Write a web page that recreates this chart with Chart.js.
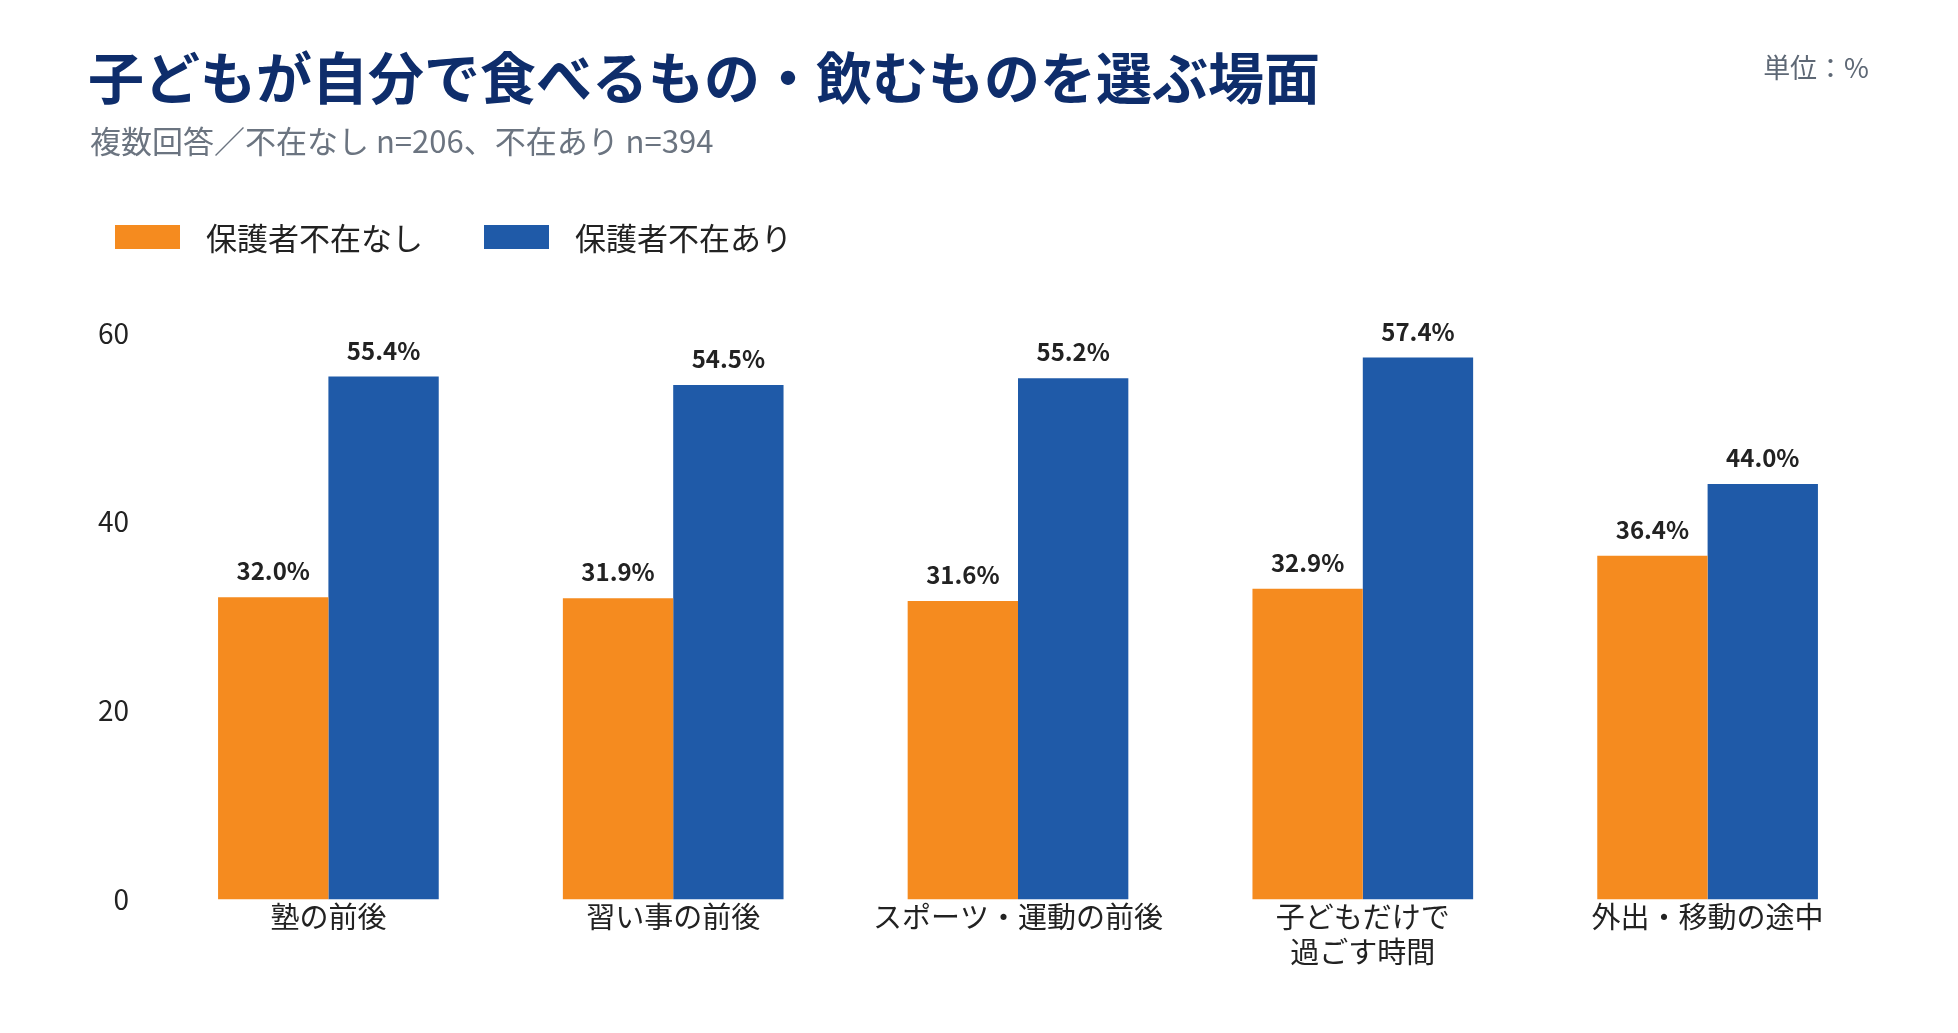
<!DOCTYPE html>
<html lang="ja">
<head>
<meta charset="utf-8">
<title>子どもが自分で食べるもの・飲むものを選ぶ場面</title>
<script src="https://cdn.jsdelivr.net/npm/chart.js@4.4.1/dist/chart.umd.min.js"></script>
<style>
  html, body {
    margin: 0;
    padding: 0;
    background: #fff;
    font-family: 'Noto Sans CJK JP', 'Noto Sans', sans-serif;
  }
  #page {
    position: relative;
    width: 1958px;
    height: 1033px;
    overflow: hidden;
  }
  #chartBox {
    position: absolute;
    left: 0;
    top: 0;
    width: 1958px;
    height: 1033px;
  }
  .title {
    position: absolute;
    left: 88px;
    top: 47px;
    font-size: 56px;
    line-height: 56px;
    font-weight: 700;
    color: #0e2d6b;
    white-space: nowrap;
  }
  .subtitle {
    position: absolute;
    left: 90px;
    top: 124px;
    font-size: 31px;
    line-height: 31px;
    color: #6b7480;
    white-space: nowrap;
  }
  .unit {
    position: absolute;
    right: 89px;
    top: 53px;
    font-size: 27px;
    line-height: 27px;
    color: #5e6875;
    white-space: nowrap;
  }
  #legend {
    position: absolute;
    left: 115px;
    top: 219px;
    height: 36px;
    display: flex;
    align-items: center;
  }
  .legend-item {
    display: flex;
    align-items: center;
    margin-right: 61px;
  }
  .legend-box {
    width: 65px;
    height: 24px;
    margin-right: 26px;
  }
  .legend-text {
    font-size: 31px;
    line-height: 36px;
    color: #222;
    white-space: nowrap;
  }
</style>
</head>
<body>
<div id="page">
  <div id="chartBox"><canvas id="myChart"></canvas></div>
  <div class="title">子どもが自分で食べるもの・飲むものを選ぶ場面</div>
  <div class="subtitle">複数回答／不在なし n=206、不在あり n=394</div>
  <div class="unit">単位：%</div>
  <div id="legend"></div>
</div>
<script>
const categories = [
    '塾の前後',
    '習い事の前後',
    'スポーツ・運動の前後',
    ['子どもだけで', '過ごす時間'],
    '外出・移動の途中'
]

const seriesNames = ['保護者不在なし', '保護者不在あり']

// 保護者不在なし
const absentNone = [32.0, 31.9, 31.6, 32.9, 36.4]
// 保護者不在あり
const absentPresent = [55.4, 54.5, 55.2, 57.4, 44.0]

const yTickValues = [0, 20, 40, 60]

const seriesColors = ['rgb(245, 139, 31)', 'rgb(31, 90, 168)']

const fontFamily = "'Noto Sans CJK JP', 'Noto Sans', sans-serif"

const dataSets = [
    {
        label: seriesNames[0],
        data: absentNone,
        backgroundColor: seriesColors[0],
        borderWidth: 0,
    },
    {
        label: seriesNames[1],
        data: absentPresent,
        backgroundColor: seriesColors[1],
        borderWidth: 0,
    }
]

// draws "55.4%" style labels above every bar
const valueLabels = {
    id: 'valueLabels',
    afterDatasetsDraw(chart) {
        const ctx = chart.ctx
        ctx.save()
        ctx.font = `700 24px ${fontFamily}`
        ctx.fillStyle = '#222'
        ctx.textAlign = 'center'
        ctx.textBaseline = 'middle'
        chart.data.datasets.forEach((dataset, i) => {
            const meta = chart.getDatasetMeta(i)
            meta.data.forEach((bar, j) => {
                ctx.fillText(dataset.data[j].toFixed(1) + '%', bar.x, bar.y - 26)
            })
        })
        ctx.restore()
    }
}

function addLegend() {
    const legend = document.getElementById('legend')
    for (const dataSet of dataSets) {
        const item = document.createElement('div')
        item.className = 'legend-item'
        const box = document.createElement('div')
        box.className = 'legend-box'
        box.style.background = dataSet.backgroundColor
        const text = document.createElement('div')
        text.className = 'legend-text'
        text.textContent = dataSet.label
        item.appendChild(box)
        item.appendChild(text)
        legend.appendChild(item)
    }
}

const ctx = document.getElementById('myChart')
const standingsChart = new Chart(ctx, {
    type: 'bar',
    data: {
        labels: categories,
        datasets: dataSets
    },
    options: {
        responsive: true,
        maintainAspectRatio: false,
        animation: false,
        layout: {
            padding: { top: 333, right: 78, bottom: 64, left: 0 }
        },
        datasets: {
            bar: {
                categoryPercentage: 0.64,
                barPercentage: 1.0
            }
        },
        scales: {
            x: {
                grid: { display: false, drawTicks: false },
                border: { display: false },
                ticks: {
                    color: '#222',
                    padding: 0,
                    maxRotation: 0,
                    autoSkip: false,
                    font: { family: fontFamily, size: 29, lineHeight: 1.2 }
                }
            },
            y: {
                min: yTickValues[0],
                max: yTickValues[yTickValues.length - 1],
                grid: { display: false, drawTicks: false },
                border: { display: false },
                afterBuildTicks: scale => {
                    scale.ticks = yTickValues.map(v => ({ value: v }))
                },
                afterFit: scale => {
                    scale.width = 156
                },
                ticks: {
                    color: '#222',
                    padding: 27,
                    font: { family: fontFamily, size: 28 }
                }
            }
        },
        plugins: {
            legend: { display: false },
            title: { display: false },
            tooltip: { enabled: false }
        }
    },
    plugins: [valueLabels]
})

addLegend()
</script>
</body>
</html>
